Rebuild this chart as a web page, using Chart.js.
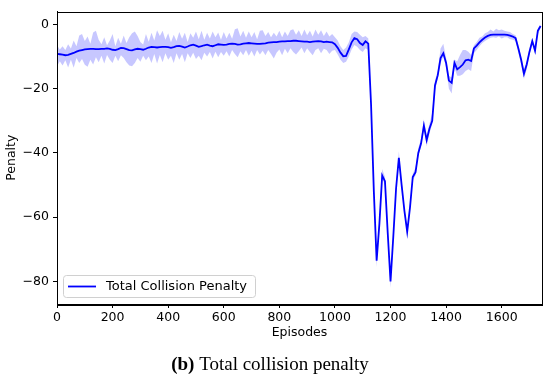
<!DOCTYPE html>
<html>
<head>
<meta charset="utf-8">
<script src="https://cdn.jsdelivr.net/npm/chart.js@4"></script>
<style>
  html, body { margin: 0; padding: 0; background: #ffffff; }
  #wrap { width: 550px; height: 380px; }
</style>
</head>
<body>
<div id="wrap"><canvas id="penaltyChart" width="550" height="380"></canvas></div>
<script>
// Total collision penalty per episode (mean and band)

const episodes = [
    0, 10, 20, 30, 40, 50, 60, 70, 80, 90,
    100, 110, 120, 130, 140, 150, 160, 170, 180, 190,
    200, 210, 220, 230, 240, 250, 260, 270, 280, 290,
    300, 310, 320, 330, 340, 350, 360, 370, 380, 390,
    400, 410, 420, 430, 440, 450, 460, 470, 480, 490,
    500, 510, 520, 530, 540, 550, 560, 570, 580, 590,
    600, 610, 620, 630, 640, 650, 660, 670, 680, 690,
    700, 710, 720, 730, 740, 750, 760, 770, 780, 790,
    800, 810, 820, 830, 840, 850, 860, 870, 880, 890,
    900, 910, 920, 930, 940, 950, 960, 970, 980, 990,
    1000, 1010, 1020, 1030, 1040, 1050, 1060, 1070, 1080, 1090,
    1100, 1110, 1120, 1130, 1140, 1150, 1160, 1170, 1180, 1190,
    1200, 1210, 1220, 1230, 1240, 1250, 1260, 1270, 1280, 1290,
    1300, 1310, 1320, 1330, 1340, 1350, 1360, 1370, 1380, 1390,
    1400, 1410, 1420, 1430, 1440, 1450, 1460, 1470, 1480, 1490,
    1500, 1510, 1520, 1530, 1540, 1550, 1560, 1570, 1580, 1590,
    1600, 1610, 1620, 1630, 1640, 1650, 1660, 1670, 1680, 1690,
    1700, 1710, 1720, 1730, 1740
];

const penaltyMean = [
    -9.2, -9.3, -9.4, -9.6, -9.5, -9.2, -8.9, -8.5, -8.2, -8.0,
    -7.8, -7.7, -7.6, -7.6, -7.7, -7.7, -7.6, -7.6, -7.5, -7.6,
    -7.9, -8.0, -7.7, -7.3, -7.4, -7.7, -8.0, -8.1, -7.8, -7.6,
    -7.7, -7.9, -7.6, -7.2, -7.0, -7.1, -7.2, -7.1, -7.0, -7.0,
    -7.1, -7.3, -7.1, -6.8, -6.7, -6.9, -7.2, -6.9, -6.5, -6.3,
    -6.6, -7.0, -6.8, -6.5, -6.3, -6.6, -6.8, -6.5, -6.2, -6.3,
    -6.4, -6.3, -6.1, -6.0, -6.1, -6.3, -6.2, -6.0, -5.9, -5.8,
    -5.9, -6.0, -6.1, -6.1, -6.0, -5.9, -5.7, -5.6, -5.5, -5.5,
    -5.4, -5.3, -5.3, -5.2, -5.2, -5.1, -5.1, -5.2, -5.3, -5.4,
    -5.4, -5.5, -5.4, -5.3, -5.2, -5.3, -5.5, -5.4, -5.5, -5.6,
    -6.2, -7.3, -8.8, -9.9, -9.8, -7.8, -5.6, -4.3, -4.6, -5.8,
    -6.4, -5.3, -6.0, -25, -52, -73.5, -62, -47, -48.8, -65,
    -80, -66, -51, -41.5, -50, -58, -64.5, -57, -47.5, -46,
    -40, -37, -31.5, -36, -32.5, -30, -19, -15.8, -10.5, -9.0,
    -12, -17.5, -18.2, -12, -14, -13.3, -12.5, -11.2, -11, -11.4,
    -7.5, -6.6, -5.6, -4.8, -4.1, -3.6, -3.3, -3.2, -3.2, -3.2,
    -3.2, -3.2, -3.3, -3.5, -3.8, -4.3, -7.5, -11, -15.4, -12.5,
    -8.5, -5.2, -8.2, -2.0, -0.5
];

const penaltyUpper = [
    -6.5, -7.8, -6.8, -8.0, -6.2, -7.5, -5.0, -6.8, -3.5, -3.0,
    -5.2, -3.8, -6.0, -2.5, -2.0, -4.8, -6.2, -4.0, -6.5, -5.0,
    -3.0, -6.8, -4.2, -6.0, -3.5, -5.8, -4.0, -2.8, -2.2, -3.6,
    -5.5, -6.3, -3.0, -5.4, -2.6, -5.0, -1.8, -3.6, -2.0, -4.8,
    -2.8, -5.6, -3.2, -5.2, -2.4, -4.5, -2.6, -5.5, -2.8, -4.2,
    -2.2, -4.6, -2.0, -4.8, -2.6, -4.4, -2.2, -4.0, -2.5, -4.8,
    -2.4, -4.4, -2.6, -4.5, -1.5, -1.2, -3.8, -2.0, -4.2, -2.2,
    -4.0, -2.4, -4.6, -2.0, -1.8, -3.6, -2.4, -4.0, -2.6, -3.8,
    -2.0, -4.0, -2.2, -3.6, -1.8, -1.5, -3.2, -1.8, -3.6, -1.6,
    -3.4, -2.0, -3.8, -1.6, -3.2, -1.8, -3.6, -2.2, -3.8, -3.0,
    -4.0, -5.0, -6.8, -8.0, -7.2, -5.6, -3.0, -2.2, -2.4, -3.2,
    -4.0, -3.6, -4.4, -23.5, -50.5, -72.5, -60.5, -45, -47.5, -64,
    -79, -65, -50, -39.5, -49, -57, -63.5, -56, -46.5, -44.5,
    -38.5, -35.5, -29.5, -34.5, -31, -27.5, -17.5, -14.5, -7.5, -6.0,
    -10.5, -16, -16.5, -11, -11.5, -9.5, -8.0, -8.0, -8.5, -9.5,
    -6.5, -5.5, -4.2, -3.8, -2.8, -2.4, -1.6, -2.2, -1.4, -1.8,
    -1.6, -2.0, -2.2, -2.4, -3.0, -3.4, -6.5, -10, -14, -11.5,
    -7.5, -4.5, -7.0, -1.2, 0
];

const penaltyLower = [
    -13.0, -11.5, -12.8, -11.2, -13.4, -11.0, -13.5, -10.5, -12.0, -10.8,
    -12.6, -13.2, -11.0, -12.5, -10.2, -11.8, -9.8, -12.2, -9.5, -11.0,
    -12.0, -9.8, -11.5, -9.6, -10.5, -11.8, -12.8, -13.0, -12.0, -10.5,
    -11.6, -9.8, -11.2, -10.0, -12.0, -9.2, -12.2, -9.5, -11.8, -9.0,
    -11.0, -9.8, -12.0, -9.0, -11.0, -9.2, -11.8, -9.0, -10.5, -8.8,
    -10.8, -9.8, -11.2, -8.8, -10.0, -8.6, -10.6, -8.5, -10.2, -8.6,
    -9.8, -8.4, -10.0, -8.0, -9.2, -10.2, -8.4, -9.6, -8.0, -9.8,
    -8.2, -10.0, -8.0, -9.4, -8.2, -9.6, -8.0, -9.2, -10.6, -8.8,
    -7.8, -9.6, -7.6, -9.0, -7.4, -8.6, -9.4, -8.4, -7.2, -9.0,
    -7.4, -8.6, -9.6, -8.0, -7.4, -9.0, -7.6, -8.0, -9.2, -8.2,
    -8.0, -9.4, -11.0, -12.0, -11.6, -10.0, -7.8, -6.4, -7.0, -8.0,
    -8.6, -7.4, -8.0, -26.5, -53.5, -75.5, -63, -48, -50, -66,
    -82, -67, -52, -42.5, -51, -59, -66, -58, -48.5, -47,
    -41, -38, -32.5, -38, -34, -31, -20.5, -17, -12, -10,
    -13.5, -20, -21.5, -13.5, -16, -16, -15.5, -14.5, -14, -14.5,
    -9, -8, -6.8, -5.8, -5.2, -4.6, -4.2, -4.0, -4.2, -3.8,
    -4.4, -4.0, -4.0, -4.6, -4.8, -5.2, -8.8, -12.5, -17, -14,
    -9.5, -6.2, -9.2, -3.0, -1.2
];

const xTicks = [0, 200, 400, 600, 800, 1000, 1200, 1400, 1600];
const yTicks = [-80, -60, -40, -20, 0];

const seriesLabel = 'Total Collision Penalty';
const captionBold = '(b)';
const captionText = ' Total collision penalty';

const axisFont = { family: "'DejaVu Sans', sans-serif", size: 12.5 };

function toPoints(values) {
    return episodes.map((x, i) => ({ x: x, y: values[i] }));
}

function minusSign(v) {
    return String(v).replace('-', '\u2212');
}

// frame, legend box and caption like the matplotlib figure
const figureExtras = {
    id: 'figureExtras',
    afterDraw(chart) {
        const ctx = chart.ctx;
        const a = chart.chartArea;
        ctx.save();

        // axes frame
        ctx.strokeStyle = '#000000';
        ctx.lineWidth = 1;
        ctx.strokeRect(Math.round(a.left) + 0.5, Math.round(a.top) + 0.5,
            Math.round(a.right - a.left), Math.round(a.bottom - a.top));

        // legend (lower left)
        const bx = a.left + 6, bw = 192, bh = 22, by = a.bottom - 7 - bh;
        ctx.beginPath();
        ctx.roundRect(bx + 0.5, by + 0.5, bw, bh, 3);
        ctx.fillStyle = 'rgba(255,255,255,0.8)';
        ctx.fill();
        ctx.strokeStyle = '#d0d0d0';
        ctx.stroke();
        ctx.beginPath();
        ctx.moveTo(bx + 5, by + bh / 2 + 0.5);
        ctx.lineTo(bx + 33, by + bh / 2 + 0.5);
        ctx.strokeStyle = '#0000ff';
        ctx.lineWidth = 1.8;
        ctx.stroke();
        ctx.fillStyle = '#000000';
        ctx.font = "13px 'DejaVu Sans', sans-serif";
        ctx.textBaseline = 'middle';
        ctx.textAlign = 'left';
        ctx.fillText(seriesLabel, bx + 43, by + bh / 2 + 1);

        // caption
        ctx.textBaseline = 'middle';
        ctx.font = "bold 19px 'Liberation Serif', serif";
        const w1 = ctx.measureText(captionBold).width;
        ctx.font = "19px 'Liberation Serif', serif";
        const w2 = ctx.measureText(captionText).width;
        const cx = 270 - (w1 + w2) / 2;
        ctx.font = "bold 19px 'Liberation Serif', serif";
        ctx.fillText(captionBold, cx, 365);
        ctx.font = "19px 'Liberation Serif', serif";
        ctx.fillText(captionText, cx + w1, 365);

        ctx.restore();
    }
};

const ctx = document.getElementById('penaltyChart');

new Chart(ctx, {
    type: 'line',
    data: {
        datasets: [
            {
                label: seriesLabel,
                data: toPoints(penaltyMean),
                borderColor: '#0000ff',
                borderWidth: 1.8,
                pointRadius: 0,
                tension: 0,
                fill: false
            },
            {
                label: 'upper',
                data: toPoints(penaltyUpper),
                borderWidth: 0,
                borderColor: 'rgba(0,0,255,0)',
                backgroundColor: 'rgba(0,0,255,0.22)',
                pointRadius: 0,
                tension: 0,
                fill: '+1'
            },
            {
                label: 'lower',
                data: toPoints(penaltyLower),
                borderWidth: 0,
                borderColor: 'rgba(0,0,255,0)',
                pointRadius: 0,
                tension: 0,
                fill: false
            }
        ]
    },
    options: {
        responsive: false,
        animation: false,
        layout: {
            padding: { top: 9, right: 8, bottom: 39.5, left: 0 }
        },
        plugins: {
            legend: { display: false },
            tooltip: { enabled: false }
        },
        scales: {
            x: {
                type: 'linear',
                min: 0,
                max: 1745,
                afterBuildTicks: (scale) => { scale.ticks = xTicks.map(v => ({ value: v })); },
                afterFit: (scale) => { scale.height = 36.5; },
                grid: {
                    drawOnChartArea: false,
                    drawTicks: true,
                    tickLength: 4,
                    color: '#000000'
                },
                border: { display: true, color: '#000000' },
                ticks: {
                    color: '#000000',
                    font: axisFont,
                    padding: 2,
                    maxRotation: 0,
                    callback: (v) => minusSign(v)
                },
                title: {
                    display: true,
                    text: 'Episodes',
                    color: '#000000',
                    font: axisFont,
                    padding: 0
                }
            },
            y: {
                type: 'linear',
                min: -87,
                max: 4,
                afterBuildTicks: (scale) => { scale.ticks = yTicks.map(v => ({ value: v })); },
                afterFit: (scale) => { scale.width = 57; },
                grid: {
                    drawOnChartArea: false,
                    drawTicks: true,
                    tickLength: 4,
                    color: '#000000'
                },
                border: { display: true, color: '#000000' },
                ticks: {
                    color: '#000000',
                    font: axisFont,
                    padding: 4,
                    callback: (v) => minusSign(v)
                },
                title: {
                    display: true,
                    text: 'Penalty',
                    color: '#000000',
                    font: axisFont,
                    padding: { top: 4.5, bottom: 0 }
                }
            }
        }
    },
    plugins: [figureExtras]
});
</script>
</body>
</html>
